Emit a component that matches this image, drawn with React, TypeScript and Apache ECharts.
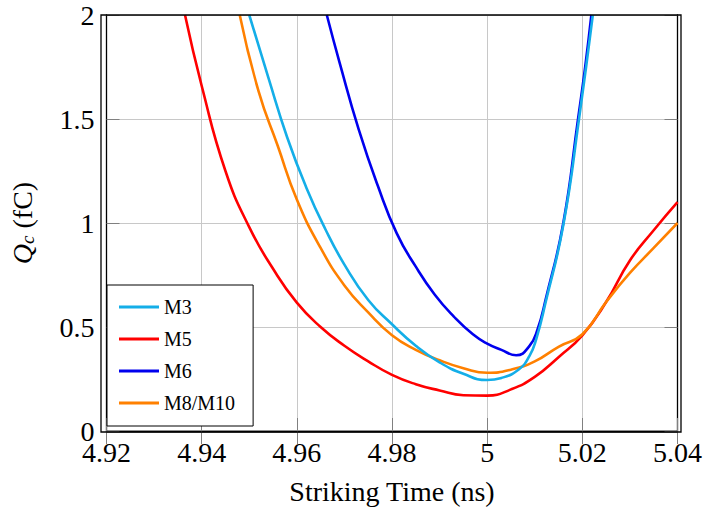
import React, { useEffect, useRef } from "react";
import * as echarts from "echarts";

const m3X = [4.95, 4.954, 4.958, 4.962, 4.966, 4.97, 4.975, 4.98, 4.985, 4.99, 4.995, 5.0, 5.003, 5.0067, 5.0089, 5.0103, 5.0123, 5.016, 5.0193, 5.0222];
const m3Y = [2.0, 1.7, 1.41, 1.17, 0.97, 0.8, 0.63, 0.513, 0.41, 0.33, 0.275, 0.245, 0.255, 0.297, 0.361, 0.441, 0.62, 0.99, 1.5, 2.0];

const m5X = [4.9365, 4.94, 4.945, 4.95, 4.955, 4.96, 4.965, 4.97, 4.975, 4.98, 4.985, 4.99, 4.995, 5.0, 5.005, 5.01, 5.015, 5.02, 5.025, 5.03, 5.035, 5.04];
const m5Y = [2.0, 1.66, 1.25, 0.98, 0.78, 0.617, 0.5, 0.41, 0.335, 0.27, 0.225, 0.195, 0.172, 0.17, 0.2, 0.26, 0.355, 0.46, 0.62, 0.82, 0.965, 1.1];

const m6X = [4.9663, 4.969, 4.973, 4.977, 4.981, 4.985, 4.989, 4.993, 4.997, 5.0, 5.003, 5.0061, 5.0089, 5.0106, 5.0123, 5.016, 5.0191, 5.0206, 5.0219];
const m6Y = [2.0, 1.77, 1.45, 1.18, 0.95, 0.79, 0.655, 0.55, 0.465, 0.42, 0.39, 0.364, 0.409, 0.489, 0.633, 1.0, 1.5, 1.75, 2.0];

const m8X = [4.948, 4.952, 4.956, 4.96, 4.965, 4.97, 4.975, 4.98, 4.985, 4.99, 4.995, 5.0, 5.005, 5.01, 5.015, 5.02, 5.025, 5.03, 5.035, 5.04];
const m8Y = [2.0, 1.63, 1.37, 1.113, 0.88, 0.7, 0.57, 0.46, 0.39, 0.34, 0.302, 0.28, 0.295, 0.335, 0.405, 0.465, 0.62, 0.76, 0.88, 1.0];

const seriesNames = ["M3", "M5", "M6", "M8/M10"];
const seriesColors = ["#14aee8", "#ff0000", "#0000ee", "#ff8000"];
const xTicks = { min: 4.92, max: 5.04, interval: 0.02 };
const yTicks = { min: 0, max: 2, interval: 0.5 };

const FONT = "'Liberation Serif', 'Times New Roman', serif";
const GRID = { left: 101, top: 15, right: 24, bottom: 78 };

function zip(xs: number[], ys: number[]) {
  return xs.map((x, i) => [x, ys[i]]);
}

export default function App() {
  const ref = useRef<HTMLDivElement>(null);
  useEffect(() => {
    if (!ref.current) return;
    const chart = echarts.init(ref.current, undefined, { renderer: "svg" });
    const allData = [zip(m3X, m3Y), zip(m5X, m5Y), zip(m6X, m6Y), zip(m8X, m8Y)];
    const baseAxisCommon = {
      axisLine: { show: true, lineStyle: { color: "#000", width: 1.3 } },
      axisTick: { show: true, inside: true, length: 13, lineStyle: { color: "#808080", width: 1 } },
    };
    const W = 705;
    const H = 510;
    chart.setOption({
      animation: false,
      backgroundColor: "#fff",
      grid: { ...GRID, containLabel: false },
      graphic: [
        {
          type: "rect",
          z: 100,
          silent: true,
          shape: { x: GRID.left, y: GRID.top, width: W - GRID.left - GRID.right, height: H - GRID.top - GRID.bottom },
          style: { fill: "none", stroke: "#000", lineWidth: 1.3 },
        },
      ],
      legend: {
        orient: "vertical",
        left: 107,
        top: 285,
        data: seriesNames,
        icon: "rect",
        backgroundColor: "#fff",
        borderColor: "#000",
        borderWidth: 1,
        borderRadius: 0,
        padding: [12, 18, 13, 12],
        itemWidth: 40,
        itemHeight: 3,
        itemGap: 12,
        textStyle: { fontFamily: FONT, fontSize: 20, color: "#000" },
      },
      xAxis: [
        {
          type: "value",
          ...xTicks,
          ...baseAxisCommon,
          name: "Striking Time (ns)",
          nameLocation: "middle",
          nameGap: 46,
          nameTextStyle: { fontFamily: FONT, fontSize: 28, color: "#000" },
          axisLabel: {
            fontFamily: FONT,
            fontSize: 28,
            color: "#000",
            margin: 7,
            formatter: (v: number) => String(parseFloat(v.toFixed(2))),
          },
          splitLine: { show: true, lineStyle: { color: "#c8c8c8", width: 1 } },
        },
        {
          type: "value",
          position: "top",
          ...xTicks,
          ...baseAxisCommon,
          axisLabel: { show: false },
          splitLine: { show: false },
        },
      ],
      yAxis: [
        {
          type: "value",
          ...yTicks,
          ...baseAxisCommon,
          name: "{q|Q}{c|c} (fC)",
          nameLocation: "middle",
          nameRotate: 90,
          nameGap: 70,
          nameTextStyle: {
            fontFamily: FONT,
            fontSize: 28,
            color: "#000",
            rich: {
              q: { fontFamily: FONT, fontSize: 28, fontStyle: "italic", color: "#000" },
              c: { fontFamily: FONT, fontSize: 19, fontStyle: "italic", color: "#000", verticalAlign: "bottom", padding: [10, 0, 0, 0] },
            },
          },
          axisLabel: {
            fontFamily: FONT,
            fontSize: 28,
            color: "#000",
            margin: 12,
            formatter: (v: number) => String(parseFloat(v.toFixed(2))),
          },
          splitLine: { show: true, lineStyle: { color: "#c8c8c8", width: 1 } },
        },
        {
          type: "value",
          position: "right",
          ...yTicks,
          ...baseAxisCommon,
          axisLabel: { show: false },
          splitLine: { show: false },
        },
      ],
      series: seriesNames.map((name, i) => ({
        name,
        type: "line",
        data: allData[i],
        smooth: 0.5,
        symbol: "none",
        clip: true,
        color: seriesColors[i],
        lineStyle: { color: seriesColors[i], width: 2.6 },
        z: i === 0 ? 4 : 3,
      })),
    });
    return () => chart.dispose();
  }, []);
  return <div ref={ref} style={{ width: 705, height: 510, position: "absolute", left: 0, top: 0 }} />;
}
